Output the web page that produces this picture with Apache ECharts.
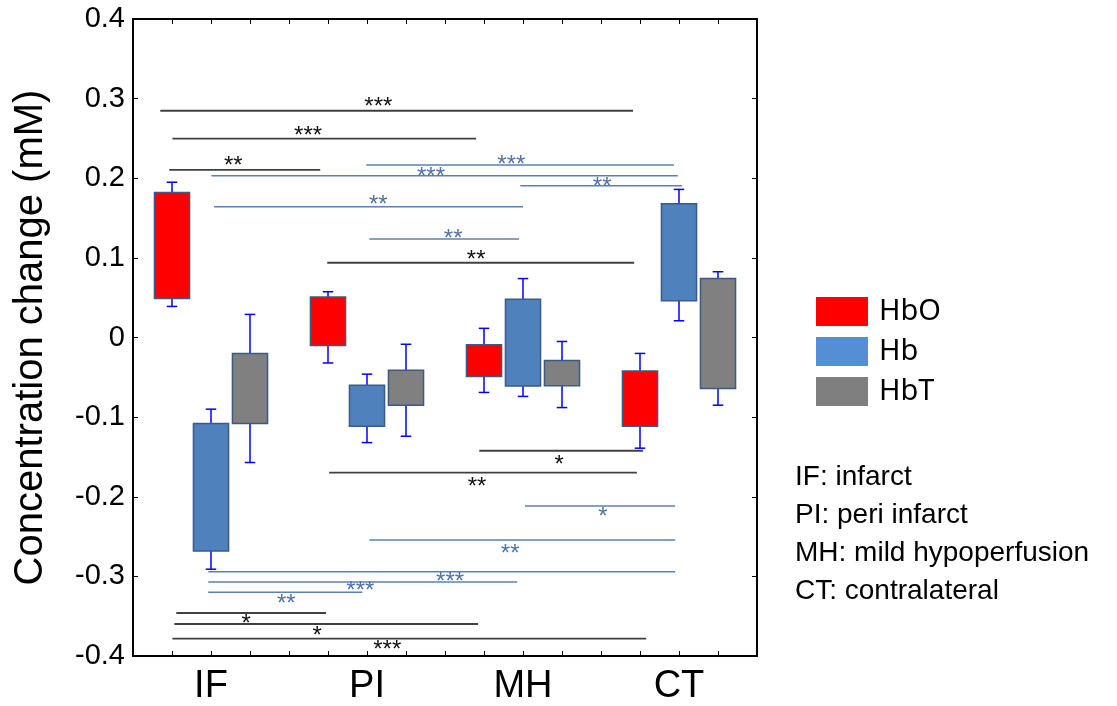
<!DOCTYPE html>
<html>
<head>
<meta charset="utf-8">
<script src="https://cdn.jsdelivr.net/npm/echarts@6/dist/echarts.min.js"></script>
<style>
  html, body { margin: 0; padding: 0; background: #fff; }
  #chart { width: 1117px; height: 706px; }
</style>
</head>
<body>
<div id="chart"></div>
<script>
// groups on the x axis, 3 boxes per group
var groups = ['IF', 'PI', 'MH', 'CT'];
var types = ['HbO', 'Hb', 'HbT'];
var notes = ['IF: infarct', 'PI: peri infarct', 'MH: mild hypoperfusion', 'CT: contralateral'];

// per group: [whisker low, box bottom, box top, whisker high]
var hboBoxes = [
    [0.039, 0.049, 0.182, 0.195],
    [-0.032, -0.010, 0.051, 0.0575],
    [-0.069, -0.049, -0.009, 0.0115],
    [-0.139, -0.1115, -0.042, -0.020]
];
var hbBoxes = [
    [-0.291, -0.268, -0.108, -0.090],
    [-0.132, -0.1115, -0.060, -0.046],
    [-0.074, -0.061, 0.048, 0.074],
    [0.021, 0.046, 0.168, 0.186]
];
var hbtBoxes = [
    [-0.157, -0.108, -0.020, 0.029],
    [-0.124, -0.085, -0.041, -0.0085],
    [-0.088, -0.0605, -0.029, -0.005],
    [-0.085, -0.064, 0.074, 0.0826]
];

// significance bars (x in box slots, y in mM)
var sigX1 = [0.70, 1.01, 0.93, 5.98, 2.01, 9.93, 2.08, 6.06, 4.98, 8.88, 5.03, 10.05, 6.06, 1.93, 1.93, 1.93, 1.11, 1.06, 1.01];
var sigX2 = [12.82, 8.80, 4.80, 13.87, 13.97, 14.08, 10.0, 9.90, 12.85, 13.08, 12.92, 13.90, 13.90, 13.90, 9.85, 5.88, 4.95, 8.85, 13.16];
var sigY = [0.2848, 0.2497, 0.2104, 0.2166, 0.2032, 0.1906, 0.1643, 0.1237, 0.0939, -0.1422, -0.1698, -0.2116, -0.2543, -0.2941, -0.3071, -0.3200, -0.3460, -0.3598, -0.3783];
var sigLabelX = [6.29, 4.49, 2.57, 9.70, 7.64, 12.03, 6.29, 8.21, 8.80, 10.93, 8.82, 12.05, 9.67, 8.13, 5.83, 3.93, 2.90, 4.72, 6.52];
var sigLabelY = [0.2949, 0.2593, 0.2217, 0.2229, 0.2070, 0.1944, 0.1727, 0.1300, 0.1036, -0.1538, -0.1819, -0.2200, -0.2656, -0.3017, -0.3130, -0.3284, -0.3535, -0.3686, -0.3871];
var sigStars = ['***', '***', '**', '***', '***', '**', '**', '**', '**', '*', '**', '*', '**', '***', '***', '**', '*', '*', '***'];
var sigKind = ['k', 'k', 'k', 'b', 'b', 'b', 'b', 'b', 'k', 'k', 'k', 'b', 'b', 'b', 'b', 'b', 'k', 'k', 'k'];

var boxColors = { HbO: '#ff0000', Hb: '#4f81bd', HbT: '#808080' };
var legendColors = { HbO: '#ff0000', Hb: '#558ed5', HbT: '#7f7f7f' };
var sigColors = { k: { line: '#404040', text: '#111111' }, b: { line: '#5b80b2', text: '#4f73a6' } };

var chart = echarts.init(document.getElementById('chart'));

function boxData(list, typeIdx) {
    return list.map(function (b, g) {
        return [g * 4 + 1 + typeIdx, b[0], b[1], b[2], b[3]];
    });
}

function renderBox(params, api) {
    var x = api.value(0);
    var lo = api.coord([x, api.value(1)]);
    var q1 = api.coord([x, api.value(2)]);
    var q3 = api.coord([x, api.value(3)]);
    var hi = api.coord([x, api.value(4)]);
    var w = api.size([0.9, 0])[0];
    var cap = api.size([0.27, 0])[0];
    var whisk = { stroke: '#0000ff', lineWidth: 1.5 };
    return {
        type: 'group',
        children: [
            { type: 'line', shape: { x1: hi[0], y1: hi[1], x2: hi[0], y2: q3[1] }, style: whisk },
            { type: 'line', shape: { x1: hi[0] - cap / 2, y1: hi[1], x2: hi[0] + cap / 2, y2: hi[1] }, style: whisk },
            { type: 'line', shape: { x1: lo[0], y1: lo[1], x2: lo[0], y2: q1[1] }, style: whisk },
            { type: 'line', shape: { x1: lo[0] - cap / 2, y1: lo[1], x2: lo[0] + cap / 2, y2: lo[1] }, style: whisk },
            {
                type: 'rect',
                shape: { x: q3[0] - w / 2, y: q3[1], width: w, height: q1[1] - q3[1] },
                style: { fill: api.visual('color'), stroke: '#3b5a85', lineWidth: 1.5 }
            }
        ]
    };
}

function renderSig(params, api) {
    var i = params.dataIndex;
    var p1 = api.coord([api.value(0), api.value(2)]);
    var p2 = api.coord([api.value(1), api.value(2)]);
    var pt = api.coord([api.value(3), api.value(4)]);
    var c = sigColors[sigKind[i]];
    return {
        type: 'group',
        children: [
            { type: 'line', shape: { x1: p1[0], y1: p1[1], x2: p2[0], y2: p2[1] }, style: { stroke: c.line, lineWidth: sigKind[i] === 'k' ? 1.8 : 1.5 } },
            {
                type: 'text', x: pt[0], y: pt[1] + 5,
                style: { text: sigStars[i], fill: c.text, fontSize: 24, fontFamily: 'Liberation Sans', align: 'center', verticalAlign: 'middle' }
            }
        ]
    };
}

var sigData = sigY.map(function (y, i) {
    return [sigX1[i], sigX2[i], y, sigLabelX[i], sigLabelY[i]];
});

var tickStyle = { inside: true, length: 5, lineStyle: { color: '#000', width: 1 } };
var frameLine = { show: true, onZero: false, lineStyle: { color: '#000', width: 2 } };

var option = {
    animation: false,
    grid: { left: 133, right: 360, top: 19, bottom: 50 },
    legend: {
        orient: 'vertical',
        left: 811,
        top: 292,
        itemWidth: 52,
        itemHeight: 29,
        itemGap: 11,
        icon: 'rect',
        selectedMode: false,
        textStyle: { fontSize: 29, fontFamily: 'Noto Sans', color: '#000', padding: [0, 0, 0, 6] },
        data: types.map(function (t) {
            return { name: t, itemStyle: { color: legendColors[t], borderWidth: 0 } };
        })
    },
    graphic: [{
        type: 'text',
        left: 795,
        top: 458,
        style: { text: notes.join('\n'), font: '28px "Liberation Sans"', lineHeight: 38, fill: '#000' }
    }],
    xAxis: [{
        type: 'value', min: 0, max: 16, interval: 1, position: 'bottom',
        axisLine: frameLine, axisTick: tickStyle, splitLine: { show: false },
        axisLabel: {
            color: '#000', fontSize: 38, fontFamily: 'Liberation Sans', margin: 12,
            formatter: function (v) {
                return (v - 2) % 4 === 0 ? groups[(v - 2) / 4] : '';
            }
        }
    }, {
        type: 'value', min: 0, max: 16, interval: 1, position: 'top',
        axisLine: frameLine, axisTick: tickStyle, splitLine: { show: false },
        axisLabel: { show: false }
    }],
    yAxis: [{
        type: 'value', min: -0.4, max: 0.4, interval: 0.1, position: 'left',
        name: 'Concentration change (mM)', nameLocation: 'middle', nameGap: 82,
        nameTextStyle: { fontSize: 40, fontFamily: 'Liberation Sans', color: '#000' },
        axisLine: frameLine, axisTick: tickStyle, splitLine: { show: false },
        axisLabel: {
            color: '#000', fontSize: 29, fontFamily: 'Liberation Sans', margin: 8,
            formatter: function (v) { return String(Math.round(v * 10) / 10); }
        }
    }, {
        type: 'value', min: -0.4, max: 0.4, interval: 0.1, position: 'right',
        axisLine: frameLine, axisTick: tickStyle, splitLine: { show: false },
        axisLabel: { show: false }
    }],
    series: [{
        name: 'sig', type: 'custom', renderItem: renderSig, data: sigData,
        encode: { x: [0, 1], y: 2 }, silent: true, z: 1
    }].concat([hboBoxes, hbBoxes, hbtBoxes].map(function (list, j) {
        return {
            name: types[j], type: 'custom', renderItem: renderBox,
            data: boxData(list, j),
            itemStyle: { color: boxColors[types[j]] },
            encode: { x: 0, y: [1, 2, 3, 4] }, z: 3
        };
    }))
};

chart.setOption(option);
</script>
</body>
</html>
